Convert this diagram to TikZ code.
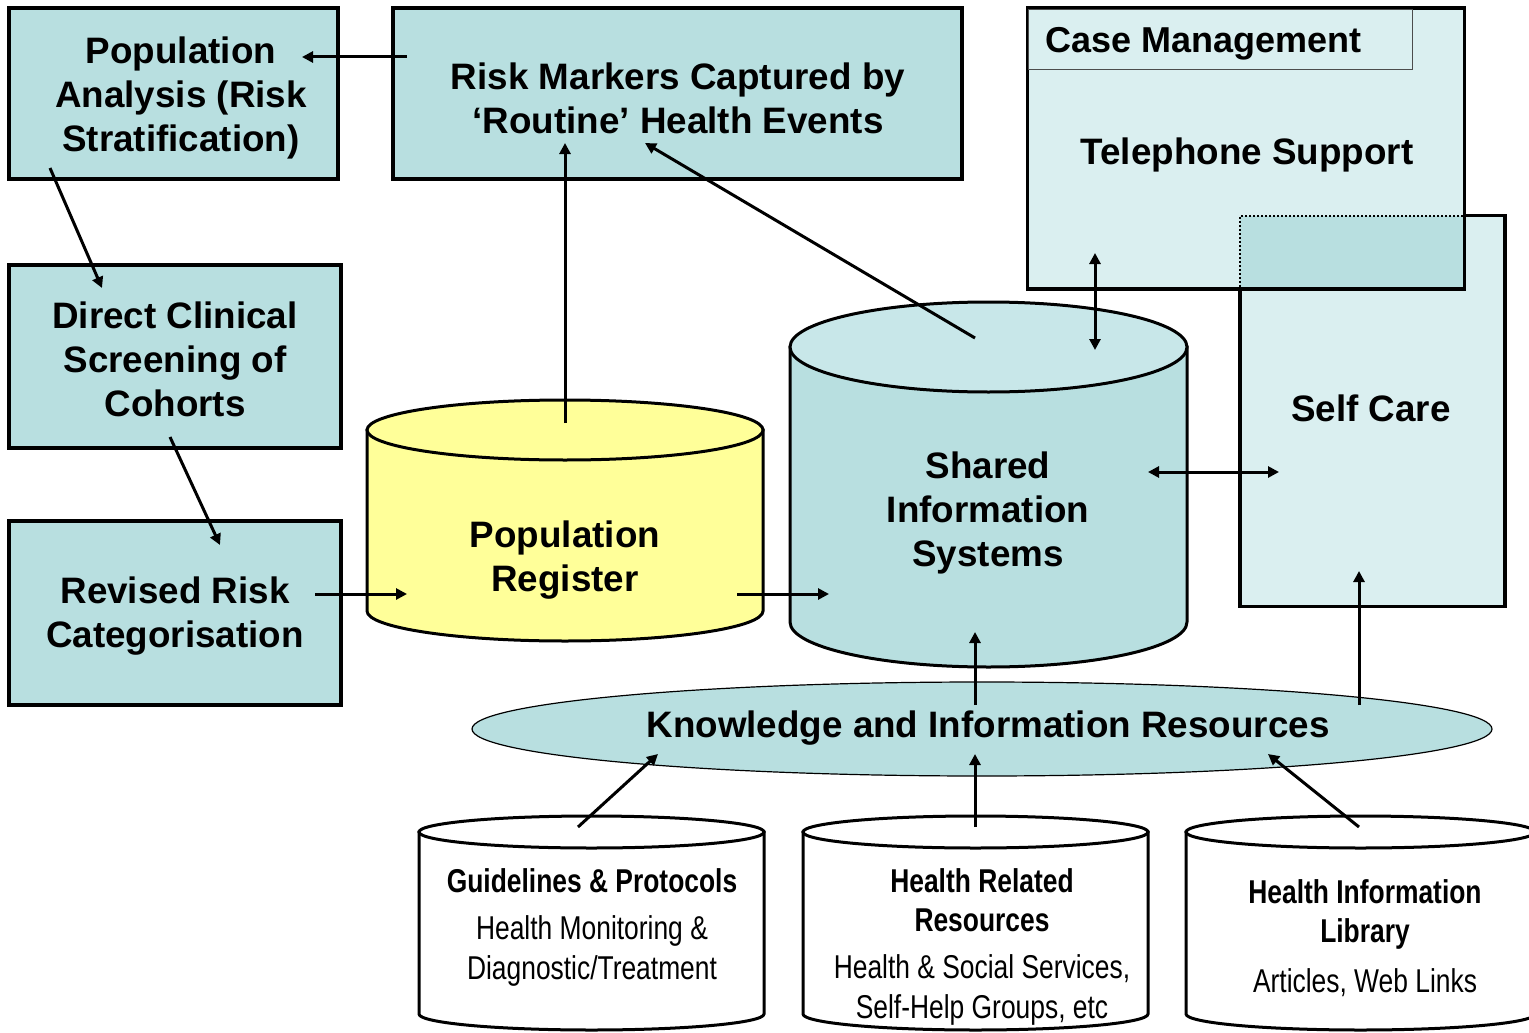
\documentclass[tikz,border=0pt]{standalone}
\usepackage{fontspec}
\setmainfont{Liberation Sans}
\newfontfamily\narrowfont[FakeStretch=0.8]{Liberation Sans}
\usetikzlibrary{arrows.meta,shapes.geometric}
\definecolor{boxblue}{HTML}{B8DFE0}
\definecolor{patblue}{HTML}{DAEFF0}
\definecolor{topblue}{HTML}{C8E7E9}
\definecolor{regyellow}{HTML}{FFFF99}
\tikzset{
  bigtext/.style={font=\bfseries\fontsize{36.8}{44}\selectfont, align=center, inner sep=0pt},
  boxnode/.style={draw, line width=3.5pt, fill=boxblue, inner sep=0pt, rectangle},
  conn/.style={line width=3pt, -{Triangle[length=11pt,width=11pt]}},
  conntwo/.style={line width=3pt, {Triangle[length=11pt,width=11pt]}-{Triangle[length=11pt,width=11pt]}},
  cylline/.style={line width=3pt},
  smallbold/.style={font=\narrowfont\bfseries\fontsize{33}{39}\selectfont, align=center, inner sep=0pt},
  smallreg/.style={font=\narrowfont\fontsize{33}{40}\selectfont, align=center, inner sep=0pt},
}
\newcommand\drawcyl[7]{%
  \path[cylline, draw, fill=#6] (#1,#3) -- (#1,#4)
     arc[start angle=180,end angle=360,x radius={(#2-#1)/2*1pt},y radius=#5pt]
     -- (#2,#3) -- cycle;
  \path[cylline, draw, fill=#7] ({(#1+#2)/2},#3) ellipse[x radius={(#2-#1)/2*1pt}, y radius=#5pt];
}
\begin{document}
\begin{tikzpicture}[x=1pt,y=-1pt]
\useasboundingbox (0,0) rectangle (1529,1033);
\clip (0,0) rectangle (1529,1033);

% left boxes
\node[boxnode, minimum width=329pt, minimum height=171pt] (pa) at (173.5,93.5) {};
\node[bigtext] (pat) at (181,98) {Population\\Analysis (Risk\\Stratification)};
\node[boxnode, minimum width=569pt, minimum height=171pt] (rm) at (677.5,93.5) {};
\node[bigtext] (rmt) at (678,98) {Risk Markers Captured by\\‘Routine’ Health Events};
\node[boxnode, minimum width=332pt, minimum height=183pt] (dc) at (175,356.5) {};
\node[bigtext] (dct) at (175,359) {Direct Clinical\\Screening of\\Cohorts};
\node[boxnode, minimum width=332pt, minimum height=184pt] (rr) at (175,613) {};
\node[bigtext] (rrt) at (175,616) {Revised Risk\\Categorisation};

% case management and self care
\node[draw, line width=3.5pt, fill=patblue, minimum width=265pt, minimum height=391pt, inner sep=0pt] (sc) at (1372.5,411) {};
\node[draw, line width=3.5pt, fill=patblue, minimum width=437pt, minimum height=281pt, inner sep=0pt] (cm) at (1246,148.5) {};
\fill[boxblue] (1240,216) rectangle (1464,288);
\draw[line width=3.5pt] (1240,289) -- (1464.5,289) -- (1464.5,215);
\draw[line width=2pt, dotted] (1463,216) -- (1240,216) -- (1240,288);
\draw[line width=1pt, black!70] (1028,10) rectangle (1412,70);
\node[anchor=west, font=\bfseries\fontsize{36}{44}\selectfont, inner sep=0pt] (cmt) at (1045,44) {Case Management};
\node[bigtext] (tst) at (1247,155) {Telephone Support};
\node[bigtext] (sct) at (1371,408) {Self Care};

% main cylinders
\drawcyl{367}{763}{430}{611}{30}{regyellow}{regyellow}
\node[bigtext] (pr) at (565,560) {Population\\Register};
\drawcyl{790}{1187}{347}{622}{45}{boxblue}{topblue}
\node[bigtext] (sis) at (988,513) {Shared\\Information\\Systems};

% knowledge ellipse
\node[ellipse, draw, line width=1.2pt, fill=boxblue, minimum width=1020pt, minimum height=94pt, inner sep=0pt] (kir) at (982,729) {};
\node[bigtext] (kirt) at (988,728) {Knowledge and Information Resources};

% bottom cylinders
\drawcyl{419}{764}{832}{1014}{16}{white}{white}
\drawcyl{803}{1148}{832}{1014}{16}{white}{white}
\drawcyl{1186}{1535}{832}{1014}{16}{white}{white}
\node[smallbold] (gp) at (592,881) {Guidelines \& Protocols};
\node[smallreg] (gpt) at (592,951) {Health Monitoring \&\\Diagnostic/Treatment};
\node[smallbold] (hr) at (982,900) {Health Related\\Resources};
\node[smallreg] (hrt) at (982,990) {Health \& Social Services,\\Self-Help Groups, etc};
\node[smallbold] (hl) at (1365,914.5) {Health Information\\Library};
\node[smallreg] (hlt) at (1365,983) {Articles, Web Links};

% connector endpoints
\coordinate (rmL) at (407,57);
\coordinate (paR) at (302,57);
\coordinate (paB) at (50,168);
\coordinate (dcT) at (102,288);
\coordinate (dcB) at (170,437);
\coordinate (rrT) at (220,545);
\coordinate (rrR) at (315,594);
\coordinate (prL) at (407,594);
\coordinate (prT) at (565,423);
\coordinate (rmB) at (565,143);
\coordinate (prR) at (737,594);
\coordinate (sisL) at (829,594);
\coordinate (sisT) at (975,338);
\coordinate (rmBR) at (645,143);
\coordinate (cmB) at (1095,253);
\coordinate (sisTR) at (1095,350);
\coordinate (sisR) at (1148,472);
\coordinate (scL) at (1279,472);
\coordinate (kirA) at (975,705);
\coordinate (sisB) at (975,632);
\coordinate (kirB) at (1359,705);
\coordinate (scB) at (1359,571);
\coordinate (gpT) at (578,827);
\coordinate (kirL) at (658,754);
\coordinate (hrT) at (975,827);
\coordinate (kirM) at (975,754);
\coordinate (hlT) at (1359,827);
\coordinate (kirR) at (1268,754);

\draw[conn] (rmL) -- (paR);
\draw[conn] (paB) -- (dcT);
\draw[conn] (dcB) -- (rrT);
\draw[conn] (rrR) -- (prL);
\draw[conn] (prT) -- (rmB);
\draw[conn] (prR) -- (sisL);
\draw[conn] (sisT) -- (rmBR);
\draw[conntwo] (cmB) -- (sisTR);
\draw[conntwo] (sisR) -- (scL);
\draw[conn] (kirA) -- (sisB);
\draw[conn] (kirB) -- (scB);
\draw[conn] (gpT) -- (kirL);
\draw[conn] (hrT) -- (kirM);
\draw[conn] (hlT) -- (kirR);
\end{tikzpicture}
\end{document}
